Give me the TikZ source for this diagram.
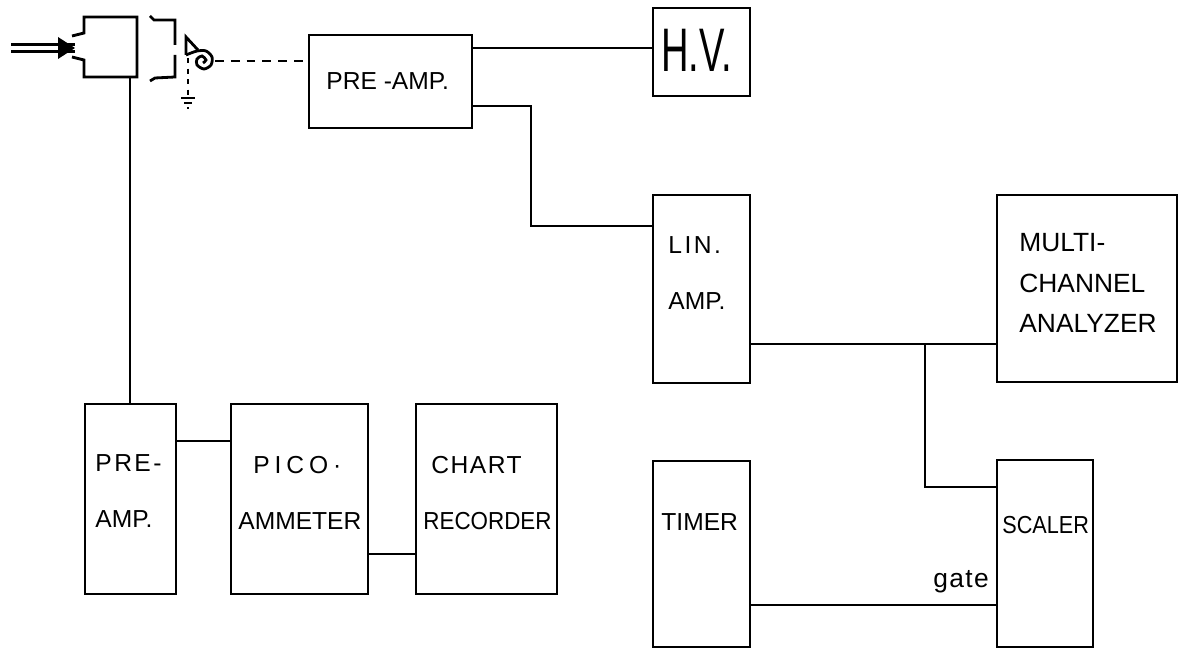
\documentclass[tikz,border=0pt]{standalone}
\usepackage{fontspec}
\setmainfont{Liberation Sans}
\usetikzlibrary{positioning}

\begin{document}
\begin{tikzpicture}[x=0.2mm,y=-0.2mm,every node/.style={font=\fontsize{14}{16}\selectfont},line width=1.6pt]
      \tikzstyle{b}=[draw,inner sep=0pt,outer sep=0pt,minimum width=19.4mm,minimum height=37.4mm]
      \tikzstyle{t}=[inner sep=0pt,align=left,anchor=west]
      \useasboundingbox (0,0) rectangle (1180,651);
      % top row
      \node[b,minimum width=32.6mm,minimum height=18.6mm] (pre1) at (390.5,81.5) {};
      \node[b,minimum height=17.6mm] (hv) at (701.5,52) {};
      \node[b,minimum height=37.6mm] (lin) at (701.5,289) {};
      \node[b,minimum width=36mm] (mca) at (1087,288.5) {};
      % lower rows
      \node[b,minimum width=18.2mm,minimum height=38mm] (pre2) at (130.5,499) {};
      \node[b,right=11mm of pre2,minimum width=27.4mm,minimum height=38mm] (pico) {};
      \node[b,right=9.6mm of pico,minimum width=28.2mm,minimum height=38mm] (chart) {};
      \node[b,minimum height=37.2mm] (timer) at (701.5,554) {};
      \node[b,minimum width=19.2mm] (scaler) at (1045,553.5) {};
      % labels
      \node[t] (lpre1) at (325,81) {PRE -AMP.};
      \node[t,font=\fontsize{35}{38}\selectfont] (lhv) at (660,50) {\scalebox{0.62}[1]{H.V.}};
      \node[t] (llin) at (667,273) {{\addfontfeature{LetterSpace=10}LIN.}\\[5.6mm]AMP.};
      \node[t,font=\fontsize{15}{18}\selectfont] (lmca) at (1018,283) {MULTI-\\[1.7mm]CHANNEL\\[1.7mm]ANALYZER};
      \node[t] (lpre2) at (94,491) {{\addfontfeature{LetterSpace=10}PRE-}\\[5.6mm]AMP.};
      \node[t] (lpico) at (237,492.5) {\hspace*{3mm}{\addfontfeature{LetterSpace=20}PICO·}\\[5.6mm]AMMETER};
      \node[t] (lchart) at (422,493) {\hspace*{1.6mm}{\addfontfeature{LetterSpace=6}CHART}\\[5.6mm]\scalebox{0.91}[1]{RECORDER}};
      \node[t] (ltimer) at (660,522) {TIMER};
      \node[t] (lscaler) at (1001,525) {\scalebox{0.88}[1]{SCALER}};
      \node[t,font=\fontsize{15}{18}\selectfont] (lgate) at (932,582) {\addfontfeature{LetterSpace=5}gate};
      % detector
      \coordinate (cupa) at (72,36);
      \coordinate (cupb) at (72,57);
      \coordinate (cupc) at (130,77);
      \coordinate (tip) at (75,48);
      \coordinate (beam) at (11,48);
      \coordinate (dyn) at (215,61);
      \coordinate (gnd) at (188,98);
      \draw[line width=1.2pt] ([yshift=0.7mm]beam)--([yshift=0.7mm]tip);
      \draw[line width=1.2pt] ([yshift=-0.7mm]beam)--([yshift=-0.7mm]tip);
      \fill ([xshift=-3.4mm,yshift=2.2mm]tip)--(tip)--([xshift=-3.4mm,yshift=-2.2mm]tip)--cycle;
      \draw (cupa)--(84,33)--(84,17)--(137,17)--(137,77)--(84,77)--(84,60)--(cupb);
      \draw (150,16)--(154,20)--(175,20)--(175,45);
      \draw (175,55)--(175,77)--(155,78)--(150,81);
      \draw (198,50)--(186,37)--(186,55);
      \draw plot[smooth] coordinates {(186,55) (197,51) (206,51) (212,57) (211,65) (204,69) (197,65) (197,59) (202,56) (206,60) (203,63)};
      \draw[dashed,line width=1pt] (188,58)--(gnd);
      \draw[line width=1pt] ([xshift=-1.4mm]gnd)--([xshift=1.4mm]gnd);
      \draw[line width=1pt] (184,103)--(192,103);
      \draw[line width=1pt] (187,108)--(189,108);
      % connectors
      \draw (cupc)--(cupc |- pre2.north);
      \draw[dash pattern=on 5pt off 4pt,line width=1.5pt] (dyn)--(dyn -| pre1.west);
      \draw (pre1.east |- 0,48)--(hv.west |- 0,48);
      \draw (pre1.east |- 0,106)--(531,106)--(531,226)--(lin.west |- 0,226);
      \draw (lin.east |- 0,344)--(mca.west |- 0,344);
      \draw (925,344)--(925,487)--(scaler.west |- 0,487);
      \draw (pre2.east |- 0,441)--(pico.west |- 0,441);
      \draw (pico.east |- 0,554)--(chart.west |- 0,554);
      \draw (timer.east |- 0,605)--(scaler.west |- 0,605);
    \end{tikzpicture}
\end{document}
